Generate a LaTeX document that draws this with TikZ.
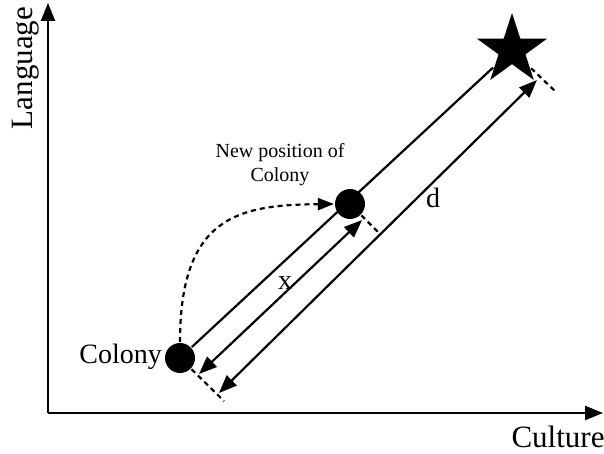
\documentclass[tikz,border=0pt]{standalone}
\usepackage{fontspec}
\setmainfont{Liberation Serif}
\usetikzlibrary{arrows.meta,shapes.geometric}
\tikzset{
  every picture/.style={line width=1.1pt},
  dot/.style={circle, fill=black, inner sep=0pt, minimum size=15pt},
  goal/.style={star, star points=5, star point ratio=2.618, fill=black,
               inner sep=0pt, minimum size=37pt},
  axis/.style={-{Triangle[length=9pt,width=7pt]}},
  span/.style={{Triangle[length=9pt,width=7pt]}-{Triangle[length=9pt,width=7pt]}},
  endmark/.style={dash pattern=on 2.5pt off 2pt},
  move/.style={endmark, -{Triangle[length=8pt,width=6pt]}},
  lbl/.style={font=\fontsize{14}{16}\selectfont, inner sep=1pt},
  albl/.style={font=\fontsize{15.5}{17}\selectfont, inner sep=1pt},
}
\begin{document}
\begin{tikzpicture}[x=0.5pt,y=-0.5pt]
\useasboundingbox (0,0) rectangle (604,454);

% ================================================== axes
\coordinate (o) at (48,413);
\coordinate (ytop) at (48,3);
\coordinate (xend) at (603,413);
\draw[axis] (o) -- (ytop);
\draw[axis] (o) -- (xend);
\node[albl, rotate=90] (lang) at (26,68) {Language};
\node[albl] (cult) at (558,437) {Culture};

% ================================================== colony, new place, goal
\node[dot] (colony) at (180,358) {};
\node[dot] (new) at (350,204) {};
\node[goal] (goal) at (512,50) {};

\node[lbl, anchor=east] (clbl) at (165,357) {Colony};
\node[font=\fontsize{10}{12}\selectfont, align=center, inner sep=1pt] (nlbl) at (280,165)
      {New position of\\Colony};

\draw (colony) -- (goal);

% the two spans
\coordinate (xlo) at (199,374);
\coordinate (xhi) at (362,220);
\coordinate (dlo) at (219,393);
\coordinate (dhi) at (537,80);
\draw[span] (xlo) -- (xhi);
\draw[span] (dlo) -- (dhi);
\node[lbl] (xl) at (285,283) {x};
\node[lbl] (dl) at (433,198) {d};

% end markers
\coordinate (cm) at (224,401);
\coordinate (nm) at (378,232);
\coordinate (gm) at (557,93);
\draw[endmark] (colony) -- (cm);
\draw[endmark] (new) -- (nm);
\draw[endmark] (goal) -- (gm);

% the move
\draw[move] (colony.north) .. controls (180,215) and (240,205) .. (new.west);

\end{tikzpicture}
\end{document}
